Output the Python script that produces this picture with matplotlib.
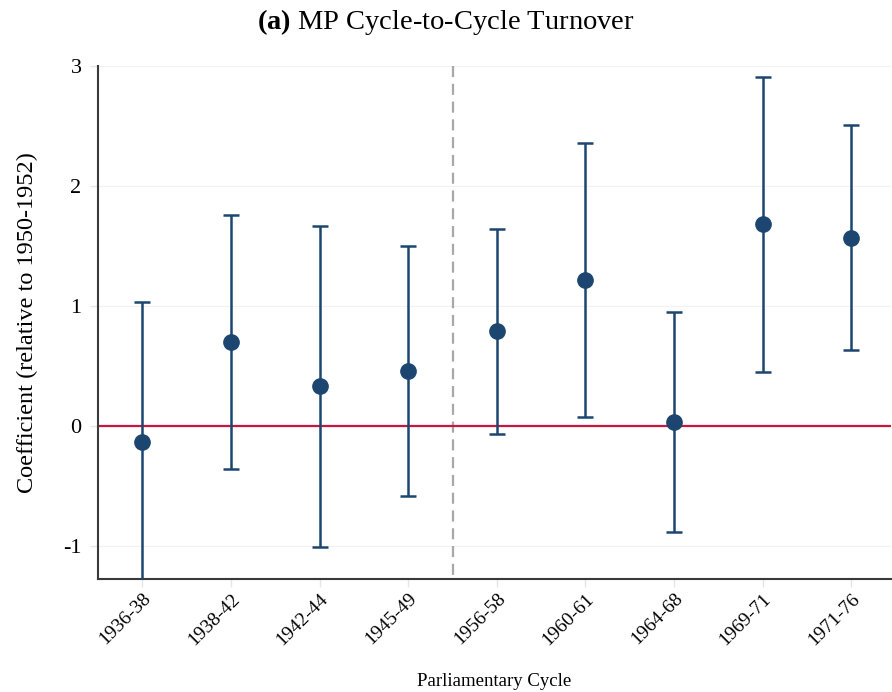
import matplotlib
matplotlib.use("Agg")
import matplotlib.pyplot as plt
import numpy as np

# values
cycles = ["1936-38", "1938-42", "1942-44", "1945-49", "1956-58",
          "1960-61", "1964-68", "1969-71", "1971-76"]
coef = [-0.13, 0.70, 0.33, 0.46, 0.79, 1.22, 0.03, 1.68, 1.57]
ci_low = [-1.29, -0.36, -1.01, -0.58, -0.07, 0.075, -0.88, 0.45, 0.63]
ci_high = [1.03, 1.76, 1.67, 1.50, 1.64, 2.36, 0.95, 2.91, 2.51]
break_after = 4  # gap between 1945-49 and 1956-58 (the 1950-52 reference)

plt.rcParams["font.family"] = ["Liberation Serif", "DejaVu Serif"]
plt.rcParams["mathtext.fontset"] = "custom"
plt.rcParams["mathtext.rm"] = "Liberation Serif"
plt.rcParams["mathtext.bf"] = "Liberation Serif:bold"
plt.rcParams["axes.unicode_minus"] = False

navy = "#1c4670"
fig = plt.figure(figsize=(8.92, 6.92), dpi=100)
ax = fig.add_axes([0.110, 0.1633, 0.889, 0.7413])

x = np.arange(1, len(cycles) + 1)
coef = np.array(coef)
yerr = [coef - np.array(ci_low), np.array(ci_high) - coef]

ax.axhline(0, color="#c8163f", linewidth=1.6, zorder=2)
# drawn top-down so the dash pattern starts at the top of the axes
ax.axvline(break_after + 0.5, ymin=1, ymax=0, color="#a8a8a8",
           linestyle=(0, (5, 3)), linewidth=1.6, zorder=1)
ax.errorbar(x, coef, yerr=yerr, fmt="o", color=navy, ecolor=navy,
            markersize=11, elinewidth=1.8, capsize=6, capthick=1.8,
            zorder=3, clip_on=True)

ax.set_xlim(0.5, 9.45)
ax.set_ylim(-1.275, 3)
ax.set_yticks([-1, 0, 1, 2, 3])
ax.set_xticks(x)
ax.set_xticklabels(cycles, rotation=45, ha="right", rotation_mode="anchor",
                   fontsize=14)
ax.tick_params(axis="y", labelsize=16, color="#e6e6e6", length=6, width=1,
               pad=6)
ax.tick_params(axis="x", color="#e6e6e6", length=6, width=1, pad=2)
ax.grid(axis="y", color="#f2f2f2", linewidth=0.8)
ax.set_axisbelow(True)

for side in ["top", "right"]:
    ax.spines[side].set_visible(False)
for side in ["left", "bottom"]:
    ax.spines[side].set_color("#3a3a3a")
    ax.spines[side].set_linewidth(1.5)

ax.set_ylabel("Coefficient (relative to 1950-1952)", fontsize=17.5,
              labelpad=18)
ax.set_xlabel("Parliamentary Cycle", fontsize=13.5, labelpad=18)
fig.suptitle(r"$\mathbf{(a)}$ MP Cycle-to-Cycle Turnover", fontsize=20.5,
             x=0.50, y=0.99)

fig.savefig("out.png", dpi=100)
